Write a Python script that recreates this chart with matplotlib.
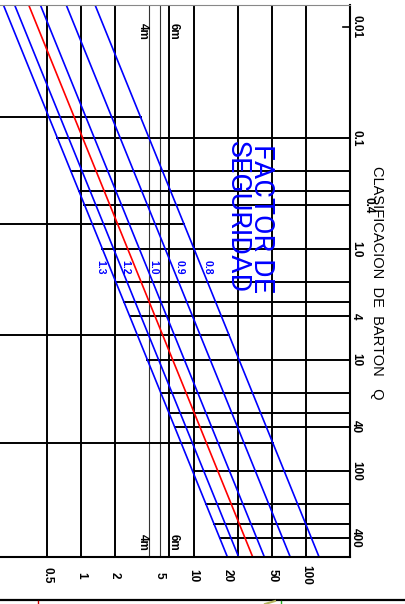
import numpy as np
import matplotlib.pyplot as plt
from matplotlib.lines import Line2D

# Clasificacion de Barton Q (vertical) vs dimension equivalente De (horizontal)
q_lines_full = [0.1, 0.2, 0.3, 0.4, 1, 2, 3, 4, 10, 20, 30, 40, 100, 200, 300, 400]
q_lines_short = [0.065, 0.6, 6, 56]
q_ticks = [0.01, 0.1, 1.0, 4, 10, 40, 100, 400]
q_tick_labels = ['0.01', '0.1', '1.0', '4', '10', '40', '100', '400']

de_lines = [0.5, 1, 2, 6, 10, 25, 50, 100]
de_thin = [4, 5]
de_ticks = [0.5, 1, 2, 5, 10, 20, 50, 100]
de_tick_labels = ['0.5', '1', '2', '5', '10', '20', '50', '100']

# rectas De = c * Q^0.4
fs_coef = [1.55, 1.95, 2.6, 3.3, 5.6, 10.1]
fs_colors = ['blue', 'blue', 'red', 'blue', 'blue', 'blue']
fs_labels = ['1.3', '1.2', '1.0', '0.9', '0.8']
fs_label_de = [1.5, 2.46, 4.36, 7.57, 13.4]

plt.rcParams['font.family'] = ['Liberation Sans', 'DejaVu Sans']

fig = plt.figure(figsize=(4.05, 6.04), dpi=100)
ax = fig.add_axes([0, 47 / 604, 350 / 405, 552 / 604])
ax.set_xscale('log')
ax.set_yscale('log')
ax.set_xlim(0.1909, 244.8)
ax.set_ylim(595.6, 0.00634)
ax.set_xticks([])
ax.set_yticks([])
ax.minorticks_off()
ax.tick_params(which='both', length=0)
ax.spines['left'].set_visible(False)
ax.spines['top'].set_color('#888888')
ax.spines['top'].set_linewidth(0.8)
ax.spines['right'].set_linewidth(1.5)
ax.spines['bottom'].set_linewidth(1.5)

qq = np.logspace(-3, 3, 200)
first, last = fs_coef[0], fs_coef[-1]

# verticales
for d in de_lines:
    ax.axvline(d, color='black', lw=1.4)
for d in de_thin:
    ax.axvline(d, color='#333333', lw=0.8)

# horizontales desde la recta 1.3 hasta el borde
for q in q_lines_full:
    ax.plot([first * q ** 0.4, 300], [q, q], color='black', lw=1.4)
# horizontales desde el borde izquierdo hasta la recta 0.8
for q in q_lines_short:
    ax.plot([0.1, last * q ** 0.4], [q, q], color='black', lw=1.4)

ax.plot([0.98, 1.0], [0.01, 0.01], color='black', lw=1.2,
        transform=ax.get_yaxis_transform())

# rectas factor de seguridad
for c, col in zip(fs_coef, fs_colors):
    ax.plot(c * qq ** 0.4, qq, color=col, lw=1.2)

for lab, d in zip(fs_labels, fs_label_de):
    ax.text(d, 1.45, lab, color='blue', fontsize=7.5, fontweight='bold',
            rotation=270, ha='center', va='center')

# etiquetas eje Q
for q, lab in zip(q_ticks, q_tick_labels):
    ax.text(1.018, q, lab, fontsize=8.5, fontweight='bold', rotation=270,
            ha='center', va='center', transform=ax.get_yaxis_transform(), clip_on=False)
ax.text(1.054, 0.4, '0.4', fontsize=8.5, fontweight='bold', rotation=270,
        ha='center', va='center', transform=ax.get_yaxis_transform(), clip_on=False)
ax.text(1.077, 0.496, 'CLASIFICACION  DE  BARTON   Q', fontsize=10.5, rotation=270,
        ha='center', va='center', transform=ax.transAxes, clip_on=False)

# etiquetas eje De
for d, lab in zip(de_ticks, de_tick_labels):
    ax.text(d, -0.033, lab, fontsize=8.5, fontweight='bold', rotation=270,
            ha='center', va='center', transform=ax.get_xaxis_transform(), clip_on=False)

for q in [0.0109, 436]:
    ax.text(3.55, q, '4m', fontsize=8.5, fontweight='bold', rotation=270, ha='center', va='center')
    ax.text(6.7, q, '6m', fontsize=8.5, fontweight='bold', rotation=270, ha='center', va='center')

fig.text(262 / 405, 1 - 219 / 604, 'FACTOR DE', color='blue', fontsize=20.5,
         fontfamily=['Roboto', 'DejaVu Sans'],
         rotation=270, ha='center', va='center')
fig.text(237 / 405, 1 - 217.5 / 604, 'SEGURIDAD', color='blue', fontsize=20.5,
         fontfamily=['Roboto', 'DejaVu Sans'],
         rotation=270, ha='center', va='center')

# trozo del dibujo siguiente
fig.add_artist(Line2D([0, 1], [1 - 599.5 / 604] * 2, color='black', lw=1.6))
fig.add_artist(Line2D([38 / 405] * 2, [0, 1 - 601 / 604], color='#cc0000', lw=1))
fig.add_artist(Line2D([281 / 405] * 2, [0, 1 - 601 / 604], color='#22aa22', lw=1))
fig.add_artist(Line2D([265 / 405, 275 / 405], [0, 1 - 601 / 604], color='#b5b560', lw=1.5))

fig.savefig('out.png', dpi=100)
